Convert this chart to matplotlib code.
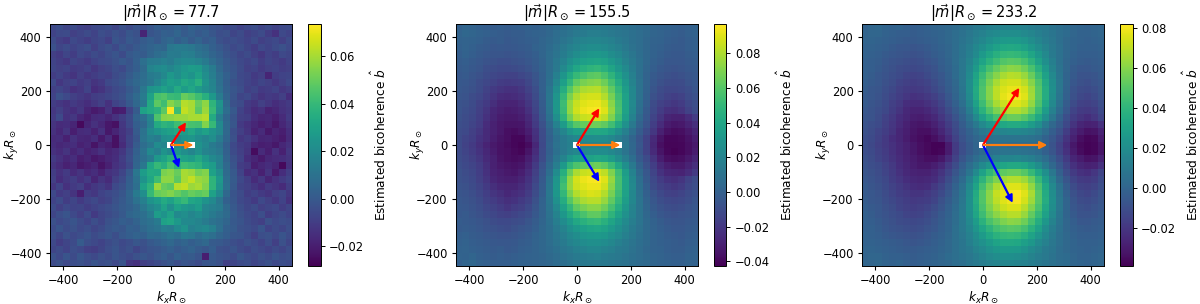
import numpy as np
import matplotlib
matplotlib.use('Agg')
import matplotlib.pyplot as plt

nan = float('nan')

plt.rcParams['font.size'] = 8.7
plt.rcParams['xtick.labelsize'] = 8.3
plt.rcParams['ytick.labelsize'] = 8.3
plt.rcParams['xtick.major.size'] = 3
plt.rcParams['ytick.major.size'] = 3
plt.rcParams['xtick.major.pad'] = 3
plt.rcParams['ytick.major.pad'] = 3
plt.rcParams['axes.linewidth'] = 0.7

# estimated bicoherence, thousandths, top row is ky = +440, left column kx = -440
panel1 = [
[-6,-4,-7,-5,-8,-9,-6,-5,-4,-7,-3,-5,-2,-4,-1,2,0,1,3,0,4,2,1,-2,-3,-6,-5,-8,-6,-4,-7,-5,-8,-6,-5],
[-8,-6,-5,-9,-7,-5,-8,-4,-6,-3,-5,-1,-3,-18,-2,0,3,2,5,1,3,0,2,-1,-4,-3,-7,-5,-9,-7,-5,-10,-14,-6,-8],
[-5,-9,-11,-6,-8,-10,-7,-6,-9,-2,-4,0,-2,1,3,0,4,6,2,5,1,4,0,2,-3,-5,-4,-6,-8,-5,-9,-7,-6,-9,-5],
[-3,-7,-5,-8,-6,-4,-9,-5,-3,-6,-1,-3,0,2,4,6,5,12,14,13,12,9,7,3,0,-3,-6,-4,-7,-10,-6,-8,-5,-3,-6],
[-9,-11,-7,-10,-6,-8,-5,-7,-4,-2,-5,0,2,1,5,8,10,14,13,16,15,11,9,5,2,-2,-4,-7,-5,-9,-12,-8,-10,-6,-7],
[-8,-10,-12,-7,-9,-11,-8,-6,-5,-3,0,-2,3,9,13,14,16,14,18,20,19,17,13,8,4,0,-3,-6,-8,-6,-10,-7,-9,-11,-8],
[-7,-9,-8,-11,-10,-8,-12,-9,-7,-4,-6,-1,2,7,17,20,21,18,22,25,28,27,20,14,6,1,-2,-5,-9,-8,-11,-9,-8,-10,-9],
[-10,-8,-11,-13,-9,-12,-10,-8,-9,-5,-3,1,5,8,13,15,19,26,22,27,24,30,22,15,8,3,-1,-6,-7,-11,-9,-18,-10,-8,-7],
[-6,-12,-9,-8,-11,-9,-13,-11,-6,-4,-2,3,6,9,12,18,24,29,27,33,30,36,24,17,9,2,-3,-5,-8,-10,-7,-9,-12,-9,-6],
[-9,-7,-10,-14,-12,-8,-15,-13,-9,-6,-4,0,4,12,24,26,30,26,34,28,32,27,22,18,10,3,-1,-4,-9,-7,-11,-10,-8,-12,-10],
[-8,-3,-6,-9,-11,-13,-10,-9,-7,-5,-3,2,7,14,30,44,46,41,40,50,47,42,36,26,14,4,-2,-7,-6,-10,-13,-11,-12,-9,-15],
[-10,-12,-14,-11,-13,-15,-12,-9,-14,-8,-5,0,6,12,33,48,42,55,50,62,60,50,56,38,24,6,-3,-5,-11,-13,-9,-12,-15,-13,-11],
[-12,-9,-13,-15,-12,-18,-21,-19,-13,-21,-20,-8,1,30,34,37,48,73,42,64,60,48,58,40,22,8,0,-8,-12,-16,-14,-19,-17,-14,-12],
[-11,-6,-14,-12,-17,-20,-16,-15,-18,-14,-10,-5,4,9,18,45,55,56,58,58,60,60,62,34,15,5,-2,-9,-10,-15,-18,-17,-20,-16,-11],
[-13,-16,-15,-18,-26,-18,-14,-17,-22,-24,-12,-6,2,6,16,34,38,36,42,46,44,43,54,40,20,6,-1,-11,-14,-17,-20,-18,-22,-17,-13],
[-14,-17,-13,-20,-16,-15,-19,-14,-22,-18,-13,-9,1,10,20,24,28,30,33,28,32,26,30,24,19,6,-4,-9,-13,-19,-16,-22,-18,-20,-15],
[-16,-15,-19,-14,-17,-18,-15,-21,-16,-24,-14,-7,-1,11,16,14,22,23,20,24,25,21,18,22,14,5,-3,-12,-10,-14,-18,-17,-19,-21,-16],
[-15,-17,-16,-15,-19,-17,-23,-18,-20,-24,-16,-8,1,8,12,21,18,nan,22,17,nan,24,19,13,10,2,-6,-10,-12,-18,-20,-19,-22,-17,-14],
[-14,-16,-13,-18,-15,-19,-17,-14,-18,-16,-12,-5,3,10,20,16,24,20,26,22,18,23,17,15,12,3,-5,-9,-13,-25,-16,-20,-14,-19,-12],
[-11,-14,-17,-15,-20,-18,-22,-20,-17,-15,-10,-4,4,9,14,26,30,36,34,30,28,33,26,20,16,4,-3,-8,-15,-18,-21,-17,-16,-15,-13],
[-13,-16,-19,-17,-22,-20,-18,-23,-19,-14,-11,-6,5,12,32,40,36,44,37,42,40,38,31,28,16,6,-2,-10,-12,-20,-17,-15,-18,-26,-14],
[-10,-14,-11,-16,-13,-17,-15,-19,-14,-12,-7,0,12,28,34,33,53,55,50,60,58,52,54,30,22,7,0,-8,-16,-14,-19,-13,-21,-15,-10],
[-9,-15,-12,-10,-14,-11,-18,-13,-16,-9,-5,2,10,24,32,42,56,56,48,60,64,58,56,38,26,8,1,-6,-10,-16,-12,-18,-14,-11,-8],
[-12,-8,-14,-11,-9,-15,-12,-10,-13,-6,-3,3,9,30,38,58,50,48,62,64,58,60,54,38,24,9,0,-7,-9,-12,-15,-11,-13,-16,-10],
[-6,-11,-9,-13,-20,-10,-12,-8,-6,-4,-1,5,13,22,40,50,52,54,50,46,50,48,50,30,20,6,-2,-5,-10,-8,-11,-13,-9,-7,-12],
[-8,-5,-10,-7,-11,-8,-6,-9,-7,-3,0,4,10,16,24,28,34,30,36,40,32,30,24,20,12,3,-1,-6,-8,-11,-6,-9,-12,-8,-14],
[-5,-9,-6,-8,-7,-10,-8,-6,-4,-2,1,3,6,12,18,22,30,22,30,26,24,28,18,16,14,6,0,-4,-7,-5,-9,-7,-6,-10,-7],
[-7,-4,-2,-6,-9,-5,-11,-7,-5,-3,0,5,7,9,14,28,24,30,20,22,18,21,17,13,10,7,1,-3,-6,-8,-4,-10,-7,-5,-8],
[-3,-6,-4,-2,-5,-8,-4,-7,-3,-1,2,1,4,8,10,13,30,32,26,20,19,17,14,10,8,5,0,-2,-5,-7,-9,-3,-6,-4,-5],
[-5,-2,-5,-3,-6,-4,-7,-5,-2,0,-1,3,2,6,9,11,15,14,20,24,16,18,20,16,9,3,1,-3,-4,-6,-2,-8,-5,-7,-4],
[-4,-7,-3,-6,-4,-2,-5,-3,-1,-4,0,2,4,3,7,6,8,11,9,13,12,8,11,9,5,2,-1,-2,-5,-9,-4,-3,-6,-2,-5],
[-6,-10,-7,-5,1,-4,-6,-8,-5,-3,-6,-4,-1,-3,0,2,4,6,3,5,2,4,6,1,0,-2,-4,-6,-3,-5,-8,-4,-9,-3,-7],
[-7,-5,-8,-4,-6,-9,-10,-7,-4,-2,-5,-3,-7,-4,-2,-1,1,3,0,2,4,1,-1,2,-3,-4,-2,-5,-7,-4,-6,-8,-5,-7,-4],
[-3,-6,-2,-5,-1,-4,-6,-3,-5,-2,-4,-6,-3,-1,-3,0,2,-1,3,0,1,-2,-20,0,-2,-3,-5,-1,-4,-6,-3,-5,-2,-4,-3],
[-5,-3,-6,-4,-3,-5,-2,-4,-3,-6,-2,-12,-14,-9,-7,-5,-3,-1,-4,-2,-3,-5,-2,-1,-3,-9,-7,-5,-4,-7,-5,-3,-6,-4,-5],
]

panel2 = [
[0,3,2,0,-1,-2,-1,-2,-1,0,1,0,2,4,6,8,10,12,13,14,14,13,12,11,10,8,6,5,3,2,1,0,-1,0,1],
[2,4,3,1,0,-1,-2,-3,-2,-2,0,1,2,4,7,9,11,14,15,17,17,16,14,12,11,9,7,5,3,2,0,-1,-2,0,1],
[1,2,1,0,-2,-3,-2,-4,-3,-2,-1,0,3,5,8,11,14,18,20,21,21,20,18,15,12,9,7,4,2,1,-1,-2,-3,-1,0],
[0,2,0,-2,-3,-5,-4,-5,-4,-3,-2,1,3,6,10,14,18,21,24,26,26,24,21,18,14,10,7,4,1,0,-2,-3,-3,-1,0],
[-1,1,-1,-3,-5,-6,-6,-7,-6,-5,-3,-1,3,7,11,16,21,26,29,31,32,30,26,22,17,12,8,4,1,-1,-3,-4,-4,-2,-1],
[-2,-1,-3,-5,-7,-8,-9,-9,-8,-7,-5,-2,2,7,13,19,27,32,36,38,39,37,32,27,20,14,9,4,0,-2,-5,-5,-5,-3,-2],
[-3,-2,-4,-6,-9,-10,-12,-12,-11,-9,-7,-3,1,7,14,23,32,40,45,48,50,46,39,31,24,16,9,3,-1,-4,-6,-7,-6,-4,-3],
[-4,-3,-6,-8,-11,-13,-14,-15,-15,-13,-10,-6,0,8,18,30,42,51,57,61,62,57,48,38,28,18,9,2,-3,-6,-8,-9,-8,-6,-4],
[-4,-5,-7,-10,-13,-15,-18,-19,-18,-17,-13,-7,0,9,22,36,50,62,68,71,72,66,56,44,31,20,10,2,-4,-8,-10,-11,-10,-7,-5],
[-5,-6,-8,-11,-15,-19,-21,-23,-23,-20,-15,-9,0,11,27,44,60,72,79,81,82,75,63,49,35,22,10,1,-6,-10,-13,-13,-12,-9,-6],
[-6,-7,-10,-13,-17,-21,-25,-26,-25,-23,-18,-11,-1,12,30,50,69,80,86,88,88,81,68,53,37,22,10,0,-8,-12,-15,-17,-15,-11,-8],
[-7,-8,-11,-15,-19,-24,-28,-29,-29,-26,-20,-13,-2,12,31,53,74,85,90,92,93,87,72,56,38,23,9,-1,-10,-15,-18,-20,-18,-13,-9],
[-7,-9,-12,-16,-21,-27,-30,-32,-31,-29,-23,-14,-3,11,31,52,74,87,93,95,96,90,75,57,38,22,8,-3,-12,-18,-23,-24,-21,-15,-10],
[-8,-10,-13,-17,-23,-28,-32,-33,-33,-31,-26,-17,-5,9,27,47,67,80,85,87,88,83,70,53,35,19,5,-5,-14,-21,-28,-30,-30,-25,-18],
[-9,-11,-14,-18,-25,-30,-33,-35,-35,-34,-28,-19,-8,5,19,34,50,60,64,66,66,63,54,42,28,14,2,-7,-17,-25,-32,-34,-33,-29,-24],
[-10,-12,-16,-20,-26,-30,-33,-37,-38,-36,-31,-22,-10,2,12,21,30,36,39,40,41,40,35,27,18,8,-2,-11,-20,-30,-36,-38,-37,-33,-28],
[-11,-14,-17,-22,-26,-31,-35,-37,-40,-40,-34,-24,-11,0,9,15,19,22,24,25,26,25,22,17,11,3,-6,-15,-26,-35,-40,-40,-39,-36,-31],
[-11,-15,-19,-24,-29,-33,-36,-38,-40,-42,-38,-27,-12,1,10,15,18,nan,20,20,20,20,19,nan,12,4,-5,-15,-27,-37,-41,-41,-40,-37,-33],
[-11,-14,-18,-22,-27,-32,-36,-37,-39,-41,-35,-25,-11,0,9,14,19,22,23,25,25,25,22,18,11,4,-6,-15,-26,-35,-40,-42,-40,-37,-32],
[-10,-13,-16,-20,-26,-30,-35,-37,-38,-37,-31,-22,-10,2,12,20,30,36,37,38,40,39,34,26,17,8,-3,-11,-21,-31,-37,-38,-37,-33,-28],
[-9,-12,-14,-18,-24,-30,-33,-35,-36,-34,-28,-19,-7,5,17,33,49,58,62,64,66,62,53,41,27,14,1,-8,-17,-26,-31,-33,-33,-29,-24],
[-8,-10,-13,-17,-23,-29,-31,-33,-34,-31,-25,-16,-5,8,25,45,65,79,85,87,88,83,70,53,35,19,5,-5,-14,-22,-27,-28,-29,-25,-19],
[-8,-9,-12,-16,-21,-27,-30,-31,-31,-28,-22,-14,-3,11,30,51,74,88,93,95,96,90,75,56,38,22,8,-3,-12,-18,-22,-24,-21,-15,-10],
[-7,-8,-11,-14,-19,-24,-27,-28,-28,-25,-20,-12,-2,12,31,54,75,86,90,93,93,87,72,55,38,23,9,-1,-10,-15,-18,-20,-18,-13,-9],
[-6,-7,-9,-13,-17,-21,-24,-27,-25,-23,-18,-10,-1,13,31,50,69,81,86,89,88,81,68,53,37,22,10,0,-7,-12,-15,-16,-14,-11,-8],
[-5,-6,-8,-11,-15,-18,-21,-24,-22,-19,-15,-8,1,12,28,44,60,72,79,82,82,75,63,49,35,22,11,2,-5,-9,-12,-13,-12,-9,-6],
[-4,-5,-7,-9,-13,-15,-18,-21,-18,-16,-12,-6,2,11,23,37,50,62,68,72,72,66,56,44,31,20,11,3,-3,-7,-9,-10,-9,-7,-5],
[-4,-3,-6,-8,-11,-13,-15,-16,-14,-12,-9,-4,2,10,20,31,42,51,57,62,63,57,48,38,28,19,11,4,-1,-5,-7,-8,-7,-6,-4],
[-2,-3,-4,-6,-8,-10,-12,-12,-10,-9,-6,-2,3,9,17,25,33,41,46,50,51,46,39,31,24,17,11,5,1,-2,-5,-6,-6,-4,-3],
[-3,-2,-3,-5,-7,-8,-9,-10,-8,-6,-4,-1,4,8,14,20,27,32,36,39,40,38,33,27,21,15,10,5,2,-1,-3,-5,-5,-3,-2],
[-1,0,-2,-3,-5,-6,-7,-7,-6,-4,-2,1,4,8,12,17,22,26,30,32,33,31,27,23,18,13,9,5,2,0,-2,-3,-4,-2,-1],
[0,1,-1,-2,-3,-4,-5,-5,-4,-2,-1,2,4,7,11,15,19,22,25,27,27,25,22,18,15,11,8,5,2,0,-1,-2,-3,-1,0],
[1,2,0,-1,-2,-3,-2,-4,-3,-1,0,2,4,6,9,12,15,18,20,22,22,20,18,15,13,10,7,4,2,1,-1,-2,-2,0,1],
[2,1,3,0,-1,-2,-1,-2,-1,0,1,2,3,5,7,10,12,15,16,17,18,16,15,13,11,9,7,5,3,2,0,-1,-1,1,2],
[0,3,4,1,0,-1,-1,-1,0,1,1,2,3,4,6,8,10,12,13,14,14,13,12,11,10,8,6,5,3,2,1,0,0,2,1],
]

panel3 = [
[-1,1,2,0,-1,0,-2,-3,-2,-1,0,1,2,3,5,7,10,11,13,14,15,15,15,14,12,11,10,7,5,3,1,0,-1,0,1],
[0,1,1,-1,-2,-3,-3,-4,-3,-2,-1,0,2,4,6,9,12,14,17,19,20,20,20,18,16,13,11,8,5,3,1,-1,-1,0,1],
[0,0,-1,-2,-3,-4,-5,-5,-4,-3,-2,0,2,4,7,10,14,17,21,24,26,27,26,24,20,16,12,9,5,2,0,-1,-2,-1,0],
[-1,-1,-2,-3,-5,-6,-6,-7,-6,-5,-3,-1,1,4,8,12,17,21,26,30,33,34,33,30,25,20,15,10,6,2,0,-2,-2,-2,-1],
[-1,-2,-3,-5,-6,-7,-8,-9,-8,-6,-4,-2,1,4,8,13,19,26,32,37,41,42,41,38,32,25,18,11,6,2,-1,-3,-3,-3,-2],
[-2,-3,-4,-6,-8,-9,-10,-11,-10,-8,-6,-3,0,4,9,15,23,31,38,44,49,51,50,46,39,30,21,13,6,1,-2,-4,-5,-4,-3],
[-2,-3,-5,-7,-9,-11,-12,-13,-12,-10,-8,-4,-1,3,9,17,27,37,46,53,58,61,60,55,47,37,26,15,7,1,-4,-6,-6,-5,-4],
[-2,-4,-6,-8,-10,-12,-14,-15,-14,-12,-9,-6,-2,3,9,19,31,43,53,60,66,69,68,63,54,43,30,18,8,0,-5,-8,-8,-7,-5],
[-3,-5,-6,-9,-11,-14,-16,-17,-16,-14,-11,-7,-3,2,9,20,33,46,57,66,72,74,74,69,60,48,34,20,9,0,-6,-9,-10,-8,-6],
[-4,-6,-7,-10,-13,-16,-18,-19,-18,-16,-13,-9,-4,1,8,20,35,48,60,70,75,78,78,74,64,50,36,21,9,-1,-8,-11,-12,-10,-7],
[-5,-6,-8,-11,-14,-17,-20,-22,-21,-19,-16,-12,-6,0,7,19,34,48,60,70,77,80,80,76,65,50,36,20,8,-2,-9,-13,-14,-12,-8],
[-5,-7,-9,-12,-16,-19,-23,-24,-24,-22,-19,-14,-8,-2,5,16,30,44,56,66,72,76,76,72,62,48,33,18,6,-4,-11,-15,-16,-14,-10],
[-6,-8,-10,-13,-17,-21,-25,-27,-27,-25,-22,-17,-11,-5,2,12,25,38,49,58,64,68,68,64,55,42,28,14,3,-6,-14,-18,-19,-17,-12],
[-7,-8,-11,-15,-19,-23,-26,-29,-30,-28,-25,-20,-14,-8,-1,7,18,29,38,46,51,54,54,50,43,33,21,9,-1,-10,-17,-21,-23,-20,-14],
[-8,-10,-12,-16,-20,-24,-28,-31,-32,-31,-28,-23,-17,-11,-4,3,10,18,24,29,33,35,35,33,28,21,11,2,-5,-13,-21,-26,-28,-27,-22],
[-9,-11,-14,-17,-21,-26,-29,-32,-34,-34,-31,-26,-20,-13,-6,-1,4,9,12,15,16,17,17,16,14,10,4,-3,-9,-17,-25,-30,-33,-32,-27],
[-10,-12,-15,-19,-23,-26,-30,-33,-35,-37,-34,-30,-23,-15,-8,-3,1,4,6,7,7,7,7,7,6,4,-1,-6,-13,-21,-28,-34,-37,-36,-30],
[-10,-13,-16,-19,-22,-25,-28,-31,-34,-36,-38,-38,-30,-18,-10,-5,0,nan,4,4,4,3,3,3,3,2,-2,-8,-15,-23,-31,-36,-38,-37,-32],
[-10,-12,-15,-18,-22,-25,-28,-31,-34,-36,-38,-37,-30,-18,-10,-5,0,3,5,6,7,7,7,6,5,3,-2,-7,-14,-22,-30,-35,-38,-37,-32],
[-9,-11,-14,-17,-21,-24,-27,-30,-32,-34,-34,-31,-24,-15,-7,-1,4,8,11,14,16,16,17,15,13,9,4,-3,-10,-18,-26,-30,-33,-32,-27],
[-8,-10,-12,-15,-19,-23,-26,-29,-31,-31,-29,-25,-18,-11,-3,4,11,18,24,29,32,34,34,32,27,20,11,2,-6,-14,-22,-26,-28,-27,-22],
[-7,-9,-11,-14,-18,-22,-25,-27,-28,-28,-25,-21,-14,-7,0,8,19,30,40,47,52,54,54,50,42,32,21,9,-2,-11,-18,-22,-23,-20,-14],
[-6,-8,-10,-13,-17,-20,-23,-25,-26,-25,-23,-18,-11,-4,3,14,27,39,50,58,65,68,68,64,55,42,28,14,2,-7,-14,-18,-19,-17,-12],
[-5,-7,-9,-12,-15,-18,-21,-23,-24,-23,-19,-14,-8,-1,6,18,31,45,57,67,73,76,76,72,62,48,33,18,6,-4,-11,-15,-16,-14,-10],
[-5,-6,-8,-11,-14,-17,-19,-21,-21,-19,-16,-12,-6,1,8,20,35,49,61,71,77,80,81,76,66,50,35,20,8,-2,-9,-13,-14,-12,-8],
[-4,-6,-7,-10,-13,-15,-17,-19,-18,-17,-14,-9,-4,2,9,21,36,49,61,70,76,79,80,74,64,50,36,21,9,0,-7,-11,-12,-10,-7],
[-3,-5,-6,-9,-11,-14,-16,-17,-16,-14,-11,-7,-2,3,10,21,34,47,58,66,72,75,75,69,59,47,33,20,9,0,-6,-9,-10,-8,-6],
[-2,-4,-6,-8,-10,-12,-14,-15,-14,-12,-9,-5,-1,4,10,20,32,44,54,61,66,69,69,63,53,42,30,18,8,0,-5,-8,-8,-7,-5],
[-2,-3,-5,-7,-9,-11,-12,-13,-12,-10,-7,-4,0,4,10,18,28,38,47,53,58,61,60,55,46,36,25,15,7,1,-3,-6,-6,-5,-4],
[-2,-2,-4,-6,-8,-9,-10,-11,-10,-8,-6,-3,0,5,10,16,24,32,39,45,49,51,50,46,38,30,20,12,6,1,-2,-4,-5,-4,-3],
[-1,-2,-3,-5,-6,-7,-8,-9,-8,-6,-4,-2,1,5,9,14,20,27,33,38,41,42,41,37,31,24,17,11,5,2,-1,-3,-3,-3,-2],
[-1,-1,-2,-3,-4,-5,-6,-7,-6,-5,-3,-1,2,5,8,13,18,22,27,31,34,34,33,29,25,19,14,9,5,2,0,-2,-2,-2,-1],
[0,0,-1,-2,-3,-4,-5,-5,-4,-3,-2,0,2,5,8,11,15,18,22,25,27,27,26,23,19,15,11,8,4,2,0,-1,-2,-1,0],
[0,1,1,-1,-2,-2,-3,-4,-3,-2,-1,1,3,5,7,9,12,15,18,20,21,21,20,18,15,12,10,7,4,3,1,-1,-1,0,1],
[1,1,2,0,-1,0,-2,-3,-2,-1,0,1,2,4,5,8,10,12,14,15,16,16,15,14,12,10,8,6,4,3,1,0,-1,0,1],
]

m_values = [77.7, 155.5, 233.2]
red_tips = [(53, 80), (80, 132), (132, 208)]
blue_tips = [(28, -80), (80, -132), (108, -210)]
cell = 25.9
vmins = [-0.0284, -0.0427, -0.039]
vmaxs = [0.0735, 0.0969, 0.0818]
axes_left = [50, 456, 862]
cbar_left = [308, 714, 1120]

W, H = 1200, 304
half = 17.5 * cell

fig = plt.figure(figsize=(12, 3.04), dpi=100)

for i, data in enumerate([panel1, panel2, panel3]):
    ax = fig.add_axes([axes_left[i] / W, 1 - 266 / H, 242 / W, 242 / H])
    cax = fig.add_axes([cbar_left[i] / W, 1 - 266 / H, 12.5 / W, 242 / H])

    b = np.array(data, dtype=float) * 1e-3
    im = ax.imshow(b, cmap='viridis', vmin=vmins[i], vmax=vmaxs[i],
                   extent=[-half, half, -half, half], interpolation='nearest')
    ax.set_xlim(-450, 450)
    ax.set_ylim(-450, 450)
    ax.set_xticks([-400, -200, 0, 200, 400])
    ax.set_yticks([-400, -200, 0, 200, 400])
    ax.set_xlabel(r'$k_xR_\odot$', labelpad=2)
    ax.set_ylabel(r'$k_yR_\odot$')
    ax.yaxis.set_label_coords(-0.12, 0.5)
    ax.set_title(r'$|\vec{m}|R_\odot = %s$' % m_values[i], fontsize=10.5, pad=4)

    tips = [(red_tips[i], 'red'), (blue_tips[i], 'blue'), ((m_values[i], 0), '#ff7f0e')]
    for (dx, dy), c in tips:
        ax.arrow(0, 0, dx, dy, width=3, head_width=26, head_length=26,
                 length_includes_head=True, color=c, zorder=3)

    cbar = fig.colorbar(im, cax=cax)
    cbar.ax.tick_params(length=3, width=0.7)
    cbar.outline.set_linewidth(0.7)
    cbar.set_label(r'Estimated bicoherence $\hat{b}$', labelpad=4)

plt.savefig('out.png', dpi=100)
